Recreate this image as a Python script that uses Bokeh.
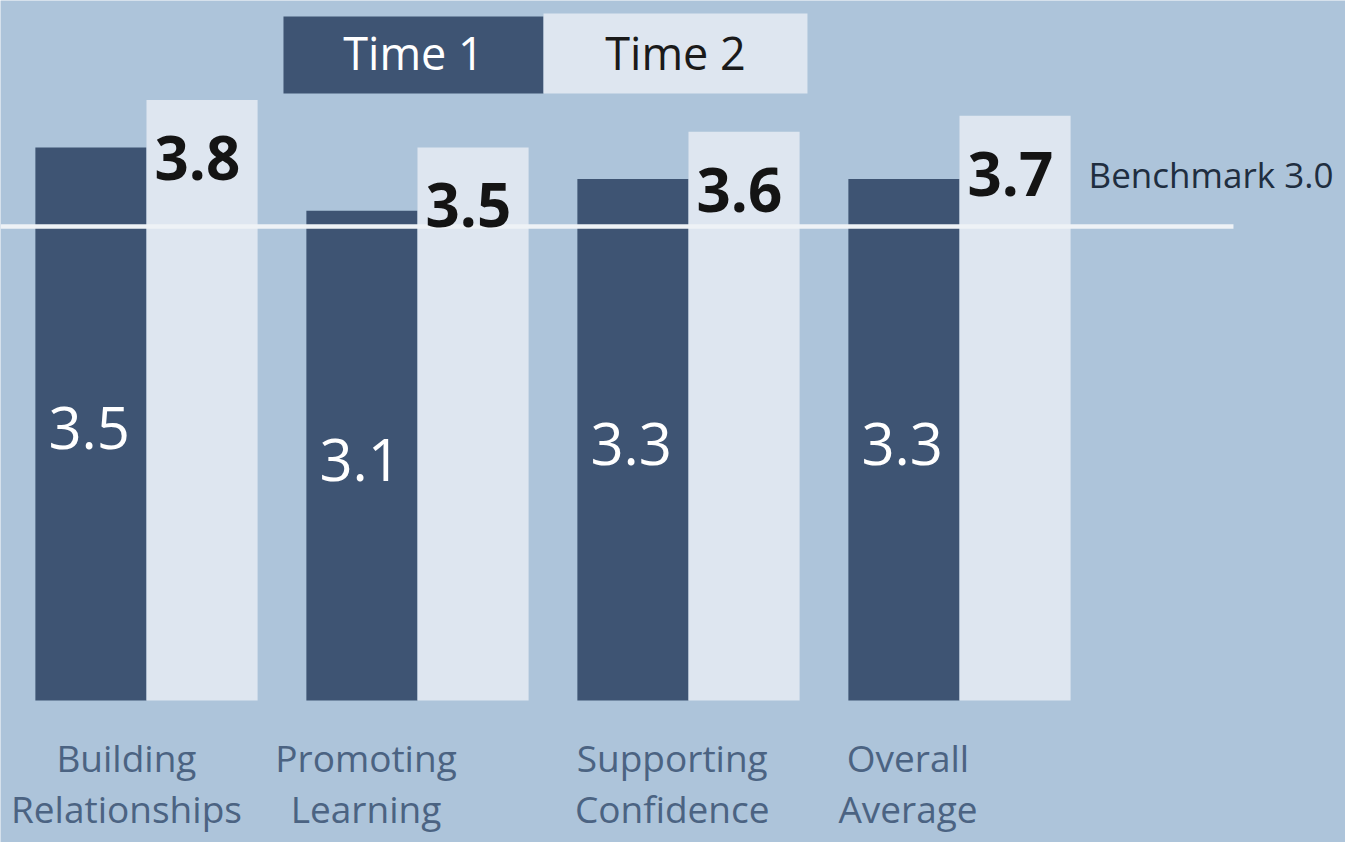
from bokeh.plotting import figure
from bokeh.models import Range1d, ColumnDataSource
from bokeh.core.properties import value
from bokeh.embed import file_html
from bokeh.resources import INLINE

# ---- data ----
categories = ["Building\nRelationships", "Promoting\nLearning",
              "Supporting\nConfidence", "Overall\nAverage"]
time1 = [3.5, 3.1, 3.3, 3.3]
time2 = [3.8, 3.5, 3.6, 3.7]
series_names = ["Time 1", "Time 2"]
benchmark = 3.0
benchmark_label = "Benchmark 3.0"

# ---- style / layout ----
BG = "#adc4da"
DARK = "#3e5473"
LIGHT = "#dee6f0"
CAT_COLOR = "#4b6382"
FONT = "Open Sans"
BAR_W = 0.41
label_shift = [-0.074, -0.19, -0.06, -0.19]

W, H = 1345, 842
p = figure(width=W, height=H, output_backend="svg", toolbar_location=None,
           x_range=Range1d(-0.5387, 4.4244), y_range=Range1d(-0.899, 4.430),
           min_border=0, background_fill_color=BG, border_fill_color=BG,
           outline_line_color=None)
p.axis.visible = False
p.grid.visible = False

idx = list(range(len(categories)))
src = ColumnDataSource(dict(
    x=idx,
    t1=time1,
    t2=time2,
    t1_half=[v / 2 for v in time1],
    t1_txt=[f"{v:.1f}" for v in time1],
    t2_txt=[f"{v:.1f}" for v in time2],
    left1=[i - BAR_W for i in idx],
    right2=[i + BAR_W for i in idx],
    line1=[c.split("\n")[0] for c in categories],
    line2=[c.split("\n")[1] for c in categories],
    xlab=[i + s for i, s in zip(idx, label_shift)],
    zero=[0] * len(idx),
))

p.quad(left="left1", right="x", bottom=0, top="t1", source=src,
       fill_color=DARK, line_color=None)
p.quad(left="x", right="right2", bottom=0, top="t2", source=src,
       fill_color=LIGHT, line_color=None)

# benchmark line
p.line(x=[-0.5387, 4.011], y=[benchmark, benchmark], line_color="#eef2f6",
       line_width=4.5)
p.text(x=[idx[-1] + BAR_W], y=[benchmark], text=[benchmark_label], x_offset=18,
       y_offset=-52, text_font=value(FONT), text_font_size="35px",
       text_color="#1f2e40", text_baseline="middle", text_align="left")

# value labels
p.text(x="left1", y="t1_half", text="t1_txt", source=src, x_offset=13,
       y_offset=4, text_font=value(FONT), text_font_size="58px",
       text_color="white", text_baseline="middle", text_align="left")
p.text(x="x", y="t2", text="t2_txt", source=src, x_offset=8, y_offset=58,
       text_font=value(FONT), text_font_size="60px", text_font_style="bold",
       text_color="#141414", text_baseline="middle", text_align="left")

# category labels
p.text(x="xlab", y="zero", text="line1", source=src, y_offset=57,
       text_font=value(FONT), text_font_size="37px", text_color=CAT_COLOR,
       text_baseline="alphabetic", text_align="center")
p.text(x="xlab", y="zero", text="line2", source=src, y_offset=108,
       text_font=value(FONT), text_font_size="37px", text_color=CAT_COLOR,
       text_baseline="alphabetic", text_align="center")

# legend (blocks)
leg = ColumnDataSource(dict(
    left=[0.5055, 1.465], right=[1.465, 2.439],
    bottom=[3.842, 3.842], top=[4.329, 4.348],
    color=[DARK, LIGHT], name=series_names, tc=["white", "#1a1a1a"],
    cx=[(0.5055 + 1.465) / 2, (1.465 + 2.439) / 2], cy=[4.10, 4.10],
))
p.quad(left="left", right="right", bottom="bottom", top="top", source=leg,
       fill_color="color", line_color=None)
p.text(x="cx", y="cy", text="name", source=leg, text_color="tc",
       text_font=value(FONT), text_font_size="45px", text_align="center",
       text_baseline="middle")

open("out.html", "w").write(file_html(p, INLINE))
